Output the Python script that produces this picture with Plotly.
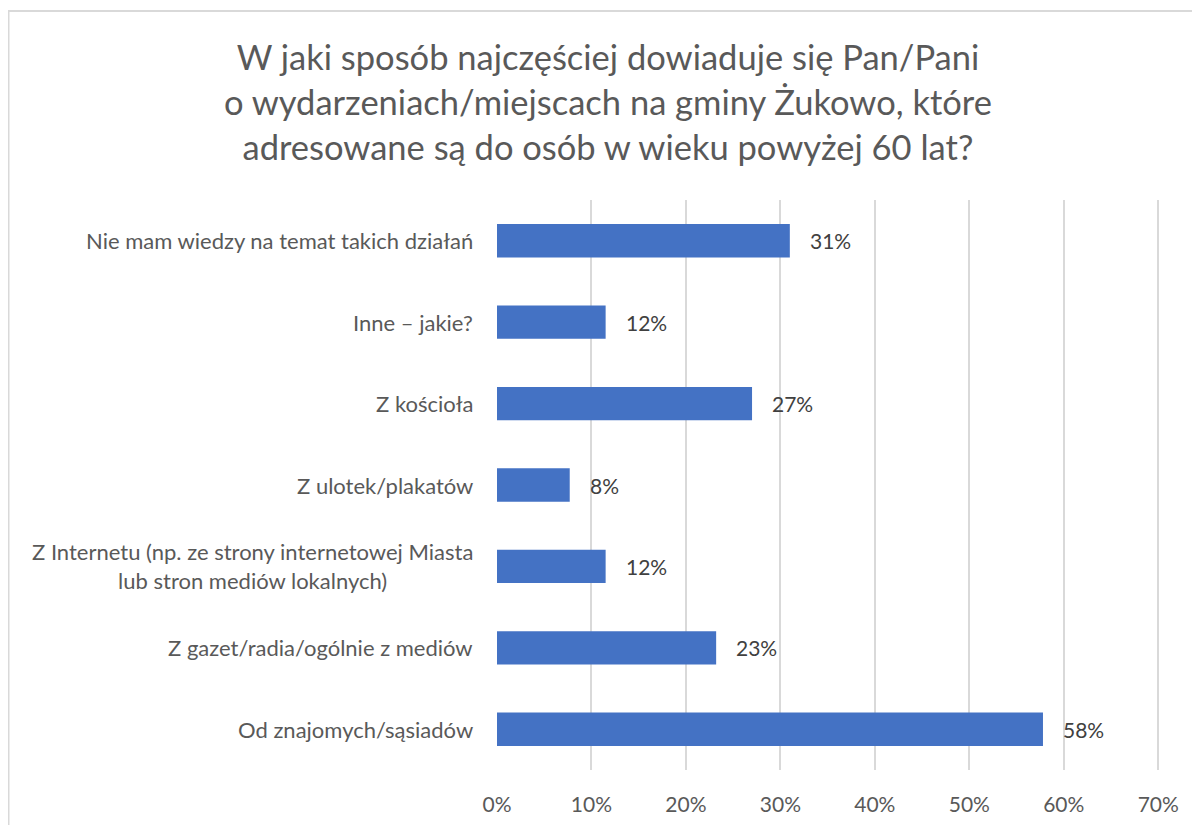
import plotly.graph_objects as go

categories = [
    "Od znajomych/sąsiadów",
    "Z gazet/radia/ogólnie z mediów",
    "Z Internetu (np. ze strony internetowej Miasta<br>lub stron mediów lokalnych)",
    "Z ulotek/plakatów",
    "Z kościoła",
    "Inne – jakie?",
    "Nie mam wiedzy na temat takich działań",
]
values = [57.8, 23.2, 11.5, 7.7, 27.0, 11.5, 31.0]
labels = ["58%", "23%", "12%", "8%", "27%", "12%", "31%"]
x_ticks = [0, 10, 20, 30, 40, 50, 60, 70]
x_ticklabels = ["0%", "10%", "20%", "30%", "40%", "50%", "60%", "70%"]

title_text = ("W jaki sposób najczęściej dowiaduje się Pan/Pani<br>"
              "o wydarzeniach/miejscach na gminy Żukowo, które<br>"
              "adresowane są do osób w wieku powyżej 60 lat?")

FONT = "Lato"
TXT = "#595959"

# layout geometry (figure pixel coords)
L, R, T, B = 489, 46, 192, 63
PW, PH = 1200 - L - R, 825 - T - B


def px(xf):
    return (xf - L) / PW


def py(yf):
    return 1 + (T - yf) / PH


fig = go.Figure()
fig.add_trace(go.Bar(
    x=values, y=categories, orientation="h",
    marker=dict(color="#4472C4", line=dict(width=0)),
    hoverinfo="skip",
))

annotations = []
for c, v, l in zip(categories, values, labels):
    annotations.append(dict(x=v, y=c, xref="x", yref="y", text=l, showarrow=False,
                            xanchor="left", xshift=18,
                            font=dict(family=FONT, size=21, color="#404040")))
    annotations.append(dict(x=0, y=c, xref="paper", yref="y", text=c, showarrow=False,
                            xanchor="right", align="center", xshift=-22,
                            font=dict(family=FONT, size=22, color=TXT)))
annotations.append(dict(x=px(600), y=py(94), xref="paper", yref="paper",
                        text=title_text, showarrow=False, xanchor="center", yanchor="middle",
                        font=dict(family=FONT, size=34.5, color=TXT)))

fig.update_layout(
    width=1200, height=825,
    margin=dict(l=L, r=R, t=T, b=B),
    paper_bgcolor="white", plot_bgcolor="white",
    showlegend=False,
    bargap=0.59,
    xaxis=dict(range=[0, 70.4], tickvals=x_ticks, ticktext=x_ticklabels,
               showgrid=True, gridcolor="#d9d9d9", gridwidth=2,
               zeroline=False, showline=False,
               ticks="outside", ticklen=16, tickcolor="rgba(0,0,0,0)",
               tickfont=dict(family=FONT, size=21, color=TXT)),
    yaxis=dict(categoryorder="array", categoryarray=categories,
               showticklabels=False, showgrid=False, zeroline=False, showline=False),
    annotations=annotations,
    shapes=[dict(type="rect", xref="paper", yref="paper",
                 x0=px(0.5), x1=px(1230),
                 y0=py(900), y1=py(3),
                 line=dict(color="#d9d9d9", width=2), fillcolor="rgba(0,0,0,0)", layer="below")],
)

fig.write_html("out.html")
